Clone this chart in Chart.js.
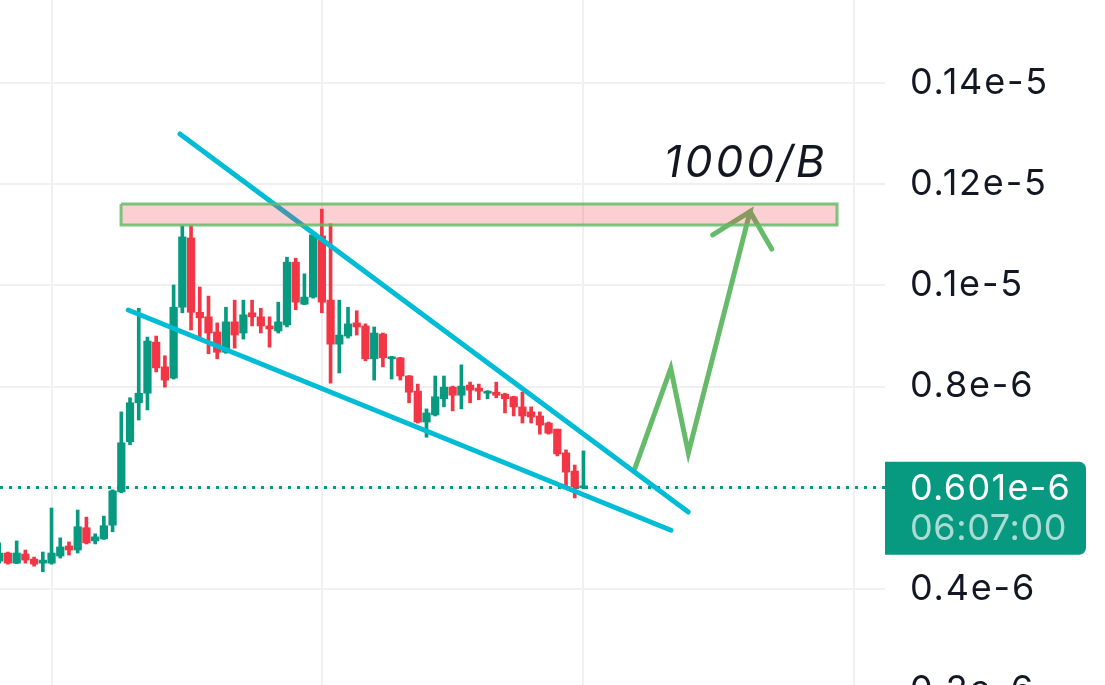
<!DOCTYPE html>
<html>
<head>
<meta charset="utf-8">
<script src="https://cdn.jsdelivr.net/npm/chart.js@4/dist/chart.umd.min.js"></script>
<style>
  html, body { margin: 0; padding: 0; background: #fff; overflow: hidden; }
  #app-container { width: 1105px; height: 720px; }
</style>
</head>
<body>
<div id="app-container"><canvas id="myChart"></canvas></div>
<script>
// daily candles, prices in units of 1e-6
const opens  = [0.455, 0.471, 0.451, 0.469, 0.459, 0.451, 0.451, 0.465, 0.485, 0.477,
                0.521, 0.495, 0.499, 0.526, 0.592, 0.691, 0.768, 0.787, 0.888, 0.839,
                0.817, 0.957, 1.094, 0.947, 0.938, 0.908, 0.868, 0.928, 0.906, 0.946,
                0.938, 0.920, 0.910, 0.922, 1.046, 0.963, 0.977, 1.098, 0.971, 0.884,
                0.900, 0.926, 0.920, 0.855, 0.904, 0.855, 0.857, 0.821, 0.791, 0.730,
                0.744, 0.776, 0.799, 0.783, 0.803, 0.797, 0.787, 0.789, 0.785, 0.780,
                0.760, 0.750, 0.742, 0.728, 0.716, 0.669, 0.633, 0.600]
const highs  = [0.491, 0.473, 0.495, 0.477, 0.463, 0.473, 0.560, 0.501, 0.493, 0.556,
                0.542, 0.509, 0.544, 0.596, 0.750, 0.778, 0.955, 0.898, 0.900, 0.861,
                1.001, 1.118, 1.118, 0.997, 0.979, 0.926, 0.957, 0.971, 0.971, 0.971,
                0.955, 0.938, 0.967, 1.056, 1.054, 1.023, 1.104, 1.151, 1.122, 0.971,
                0.957, 0.950, 0.924, 0.918, 0.906, 0.860, 0.858, 0.822, 0.805, 0.756,
                0.821, 0.821, 0.801, 0.843, 0.809, 0.805, 0.792, 0.809, 0.787, 0.781,
                0.789, 0.760, 0.750, 0.730, 0.716, 0.675, 0.645, 0.673]
const lows   = [0.451, 0.449, 0.450, 0.451, 0.445, 0.434, 0.449, 0.461, 0.467, 0.471,
                0.489, 0.489, 0.498, 0.513, 0.590, 0.685, 0.734, 0.754, 0.829, 0.799,
                0.815, 0.946, 0.912, 0.892, 0.865, 0.855, 0.866, 0.876, 0.894, 0.920,
                0.906, 0.878, 0.906, 0.918, 0.952, 0.962, 0.975, 0.946, 0.807, 0.827,
                0.896, 0.902, 0.851, 0.813, 0.839, 0.815, 0.813, 0.768, 0.728, 0.700,
                0.742, 0.760, 0.752, 0.756, 0.768, 0.774, 0.776, 0.778, 0.748, 0.742,
                0.728, 0.728, 0.706, 0.706, 0.663, 0.598, 0.580, 0.598]
const closes = [0.471, 0.451, 0.471, 0.457, 0.449, 0.457, 0.471, 0.483, 0.477, 0.523,
                0.491, 0.503, 0.525, 0.594, 0.689, 0.768, 0.787, 0.890, 0.837, 0.813,
                0.957, 1.096, 0.947, 0.936, 0.906, 0.868, 0.928, 0.902, 0.942, 0.938,
                0.920, 0.914, 0.928, 1.046, 0.967, 0.977, 1.100, 0.967, 0.884, 0.902,
                0.924, 0.918, 0.855, 0.906, 0.857, 0.859, 0.821, 0.789, 0.730, 0.748,
                0.780, 0.799, 0.783, 0.801, 0.793, 0.791, 0.791, 0.783, 0.776, 0.760,
                0.742, 0.740, 0.724, 0.708, 0.667, 0.631, 0.602, 0.601]

// month boundaries (candle index) for the vertical grid
const monthTicks = [6, 37, 67, 98]
const yTicks = [0.2, 0.4, 0.6, 0.8, 1.0, 1.2, 1.4]
const yTickLabels = ['0.2e-6', '0.4e-6', '0.6e-6', '0.8e-6', '0.1e-5', '0.12e-5', '0.14e-5']

// drawings, as [candle index, price]
const upperLine = [[20.73, 1.2995], [79.02, 0.552]]
const lowerLine = [[14.80, 0.9515], [77.04, 0.516]]
const zoneX = [13.97, 96.08]
const zoneY = [1.1196, 1.161]
const pathPts = [[72.91, 0.639], [77.01, 0.836], [79.03, 0.669], [86.10, 1.146], [81.82, 1.100]]
const arrowWing = [[86.10, 1.146], [88.59, 1.072]]
const targetLabel = '1000/B'
const targetPos = [95.0, 1.2145]
const lastPrice = 0.601
const lastPriceText = '0.601e-6'
const countdownText = '06:07:00'

const UP = '#089981'
const DOWN = '#f23645'
const CYAN = '#00bcd4'
const GREEN = '#66bb6a'
const FONT = 'Inter, "Noto Sans", sans-serif'

const toXY = pts => pts.map(p => ({ x: p[0], y: p[1] }))
const candleColors = opens.map((o, i) => closes[i] >= o ? UP : DOWN)

const overlay = {
  id: 'overlay',
  beforeDraw(chart) {
    chart.ctx.letterSpacing = '1.8px'
  },
  beforeDatasetsDraw(chart) {
    const { ctx, chartArea, scales: { y } } = chart
    const py = Math.round(y.getPixelForValue(lastPrice)) + 0.5
    ctx.save()
    ctx.setLineDash([3, 6])
    ctx.lineWidth = 3
    ctx.strokeStyle = UP
    ctx.beginPath()
    ctx.moveTo(chartArea.left, py)
    ctx.lineTo(chartArea.right, py)
    ctx.stroke()
    ctx.restore()
  },
  afterDraw(chart) {
    const { ctx, chartArea, scales: { x, y } } = chart
    ctx.save()
    // target text
    ctx.letterSpacing = '3px'
    ctx.font = 'italic 44px ' + FONT
    ctx.fillStyle = '#131722'
    ctx.textAlign = 'right'
    ctx.textBaseline = 'alphabetic'
    ctx.fillText(targetLabel, x.getPixelForValue(targetPos[0]), y.getPixelForValue(targetPos[1]))

    // last price tag on the price scale
    const py = y.getPixelForValue(lastPrice)
    const left = chartArea.right
    const top = py - 25.5
    const w = 201, h = 93, r = 7
    ctx.fillStyle = UP
    ctx.beginPath()
    ctx.moveTo(left, top)
    ctx.lineTo(left + w - r, top)
    ctx.arcTo(left + w, top, left + w, top + r, r)
    ctx.lineTo(left + w, top + h - r)
    ctx.arcTo(left + w, top + h, left + w - r, top + h, r)
    ctx.lineTo(left, top + h)
    ctx.closePath()
    ctx.fill()
    ctx.letterSpacing = '1.3px'
    ctx.textAlign = 'left'
    ctx.textBaseline = 'middle'
    ctx.font = '36px ' + FONT
    ctx.fillStyle = '#ffffff'
    ctx.fillText(lastPriceText, left + 25, py + 2)
    ctx.letterSpacing = '0.6px'
    ctx.fillStyle = 'rgba(255,255,255,0.66)'
    ctx.fillText(countdownText, left + 25, py + 42)
    ctx.restore()
  }
}

const ctx = document.getElementById('myChart').getContext('2d')
const chart = new Chart(ctx, {
  type: 'bar',
  data: {
    datasets: [
      {
        label: 'wicks',
        data: opens.map((o, i) => ({ x: i, y: [lows[i], highs[i]] })),
        backgroundColor: candleColors,
        barThickness: 3,
        grouped: false,
        minBarLength: 1,
        order: 4
      },
      {
        label: 'bodies',
        data: opens.map((o, i) => ({ x: i, y: [o, closes[i]] })),
        backgroundColor: candleColors,
        barThickness: 7.6,
        grouped: false,
        minBarLength: 2,
        order: 3
      },
      {
        type: 'line',
        data: toXY(upperLine),
        borderColor: CYAN,
        borderWidth: 5,
        pointRadius: 0,
        borderCapStyle: 'round',
        fill: false,
        order: 2
      },
      {
        type: 'line',
        data: toXY(lowerLine),
        borderColor: CYAN,
        borderWidth: 5,
        pointRadius: 0,
        borderCapStyle: 'round',
        fill: false,
        order: 2
      },
      {
        type: 'line',
        data: toXY(pathPts),
        borderColor: GREEN,
        borderWidth: 5,
        pointRadius: 0,
        borderCapStyle: 'round',
        borderJoinStyle: 'miter',
        fill: false,
        order: 2
      },
      {
        type: 'line',
        data: toXY(arrowWing),
        borderColor: GREEN,
        borderWidth: 5,
        pointRadius: 0,
        borderCapStyle: 'round',
        fill: false,
        order: 2
      },
      {
        type: 'line',
        data: toXY([[zoneX[0], zoneY[1]], [zoneX[1], zoneY[1]], [zoneX[1], zoneY[0]], [zoneX[0], zoneY[0]], [zoneX[0], zoneY[1]]]),
        borderColor: 'rgba(102,187,106,0.85)',
        backgroundColor: 'rgba(242,54,69,0.24)',
        borderWidth: 3,
        pointRadius: 0,
        fill: 'shape',
        order: 1
      }
    ]
  },
  options: {
    responsive: true,
    maintainAspectRatio: false,
    devicePixelRatio: 1,
    animation: false,
    layout: { padding: 0 },
    plugins: { legend: { display: false }, tooltip: { enabled: false } },
    elements: { line: { tension: 0 } },
    scales: {
      x: {
        type: 'linear',
        min: 0.09,
        max: 101.58,
        offset: false,
        grid: { color: '#f0f0f0', lineWidth: 2, drawTicks: false, offset: false },
        border: { display: false },
        ticks: { display: false },
        afterBuildTicks: s => { s.ticks = monthTicks.map(v => ({ value: v })) },
        afterFit: s => { s.height = 0; s.paddingLeft = 0; s.paddingRight = 0 }
      },
      y: {
        type: 'linear',
        position: 'right',
        min: 0.1409,
        max: 1.5644,
        grid: { color: '#f0f0f0', lineWidth: 2, drawTicks: false },
        border: { display: false },
        ticks: {
          padding: 25,
          color: '#131722',
          font: { family: FONT, size: 36 },
          callback: v => yTickLabels[yTicks.findIndex(t => Math.abs(t - v) < 1e-6)]
        },
        afterBuildTicks: s => { s.ticks = yTicks.map(v => ({ value: v })) },
        afterFit: s => { s.width = 220; s.paddingTop = 0; s.paddingBottom = 0 }
      }
    }
  },
  plugins: [overlay]
})
</script>
</body>
</html>
